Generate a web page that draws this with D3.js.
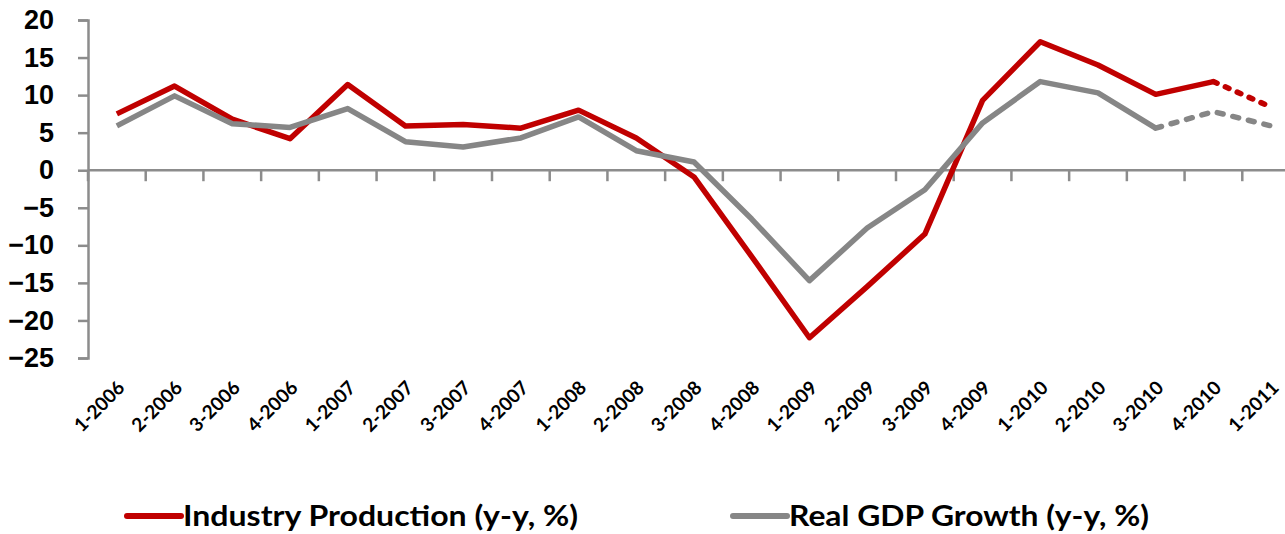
<!DOCTYPE html>
<html>
  <head>
    <meta charset='utf-8'>
    <title>Industry Production vs Real GDP Growth</title>
    <script src='https://d3js.org/d3.v7.min.js'></script>
    <style>
      body { margin: 0; background: #fff; }
      svg { display: block; font-family: Lato, 'Open Sans', sans-serif; }
    </style>
  </head>
  <body>
    <svg id='linechart' width='1285' height='534'></svg>
  </body>
</html>
<script>

// quarters on the x axis
var quarters = ['1-2006','2-2006','3-2006','4-2006','1-2007','2-2007','3-2007','4-2007',
                '1-2008','2-2008','3-2008','4-2008','1-2009','2-2009','3-2009','4-2009',
                '1-2010','2-2010','3-2010','4-2010','1-2011'];

// series values (y-y, %)
var industry = [7.5, 11.2, 6.8, 4.2, 11.4, 5.9, 6.1, 5.6, 8.0, 4.3, -0.9, -11.5,
                -22.3, -15.5, -8.5, 9.3, 17.1, 14.0, 10.1, 11.8, 8.4];
var gdp = [5.9, 9.9, 6.2, 5.7, 8.2, 3.8, 3.1, 4.3, 7.1, 2.6, 1.1, -6.5,
           -14.7, -7.7, -2.6, 6.3, 11.8, 10.3, 5.6, 7.8, 5.9];

// y ticks
var yTicks = [20, 15, 10, 5, 0, -5, -10, -15, -20, -25];

// first quarter of the dashed (forecast) part of each series
var industryDashFrom = '4-2010';
var gdpDashFrom = '3-2010';

var seriesNames = ['Industry Production (y-y, %)', 'Real GDP Growth (y-y, %)'];

var red = '#c00000', grey = '#868686', axisColor = '#8c8c8c';

var svg = d3.select('#linechart');

var x = d3.scaleBand().domain(quarters).range([88, 1300]);
var y = d3.scaleLinear().domain([-25, 20]).range([358, 20]);

function cx(q) { return x(q) + x.bandwidth() / 2; }

// y axis
var yAxis = svg.append('g')
    .attr('transform', 'translate(88,0)')
    .call(d3.axisLeft(y).tickValues(yTicks).tickSize(10).tickPadding(24).tickFormat(d3.format('d')));
yAxis.select('.domain').attr('stroke', axisColor).attr('stroke-width', 2.5);
yAxis.selectAll('.tick line').attr('stroke', axisColor).attr('stroke-width', 2.5);
yAxis.selectAll('.tick text')
    .attr('fill', '#000')
    .style('font-size', '27px')
    .style('font-weight', '600');

// x axis line through zero, ticks on band boundaries
var xAxis = svg.append('g')
    .attr('transform', 'translate(0,' + y(0) + ')');
xAxis.append('line')
    .attr('x1', 88).attr('x2', 1300)
    .attr('stroke', axisColor).attr('stroke-width', 2.5);
xAxis.selectAll('.xtick')
    .data(quarters)
    .enter().append('line')
    .attr('class', 'xtick')
    .attr('x1', d => x(d)).attr('x2', d => x(d))
    .attr('y1', 0).attr('y2', 11)
    .attr('stroke', axisColor).attr('stroke-width', 2.5);

// x labels sit below the plot, rotated
svg.append('g').selectAll('text')
    .data(quarters)
    .enter().append('text')
    .attr('transform', d => 'translate(' + (cx(d) + 9) + ',389) rotate(-45)')
    .attr('text-anchor', 'end')
    .style('font-size', '19px')
    .style('font-weight', 'bold')
    .text(d => d);

function drawSeries(values, color, dashFrom, dash) {
    var pts = quarters.map((q, i) => ({q: q, v: values[i]}));
    var cut = quarters.indexOf(dashFrom);
    var line = d3.line().x(d => cx(d.q)).y(d => y(d.v));

    svg.append('path')
        .datum(pts.slice(0, cut + 1))
        .attr('d', line)
        .attr('fill', 'none')
        .attr('stroke', color)
        .attr('stroke-width', 5.5)
        .attr('stroke-linejoin', 'round');

    svg.append('path')
        .datum(pts.slice(cut))
        .attr('d', line)
        .attr('fill', 'none')
        .attr('stroke', color)
        .attr('stroke-width', 5.5)
        .attr('stroke-linecap', 'round')
        .attr('stroke-dasharray', dash);
}

drawSeries(industry, red, industryDashFrom, '4,9');
drawSeries(gdp, grey, gdpDashFrom, '6,10');

// legend
var legend = svg.append('g');
var legendX = [127, 733];
var legendW = [395, 360];
[red, grey].forEach(function(c, i) {
    legend.append('line')
        .attr('x1', legendX[i]).attr('x2', legendX[i] + 54)
        .attr('y1', 516).attr('y2', 516)
        .attr('stroke', c).attr('stroke-width', 6)
        .attr('stroke-linecap', 'round');
    legend.append('text')
        .attr('x', legendX[i] + 56)
        .attr('y', 526)
        .attr('textLength', legendW[i])
        .attr('lengthAdjust', 'spacingAndGlyphs')
        .style('font-size', '28px')
        .style('font-weight', 'bold')
        .text(seriesNames[i]);
});

</script>
